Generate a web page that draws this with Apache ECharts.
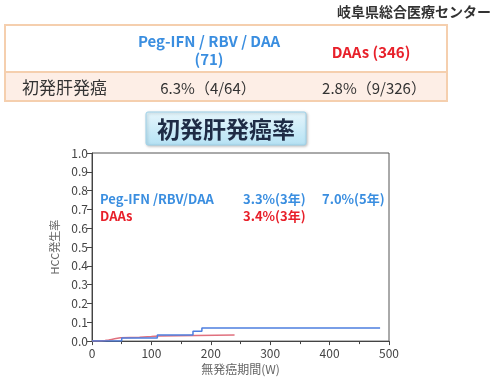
<!DOCTYPE html>
<html>
<head>
<meta charset="utf-8">
<script src="https://cdn.jsdelivr.net/npm/echarts@6/dist/echarts.min.js"></script>
<style>
  html, body { margin: 0; padding: 0; background: #fff; }
  #main { width: 497px; height: 381px; }
</style>
</head>
<body>
<div id="main"></div>
<script>
// 累積発癌率 (KM step points: [週, 発生率])
const pegWeeks = [0, 50, 110, 170, 185, 485];
const pegRate = [0, 0.016, 0.033, 0.052, 0.07, 0.07];
const daaWeeks = [0, 15, 22, 28, 33, 38, 43, 48, 80, 100, 112, 240];
const daaRate = [0, 0.003, 0.006, 0.009, 0.012, 0.015, 0.018, 0.021, 0.024, 0.027, 0.033, 0.033];

const xTicks = [0, 100, 200, 300, 400, 500];
const yTicks = [0, 0.1, 0.2, 0.3, 0.4, 0.5, 0.6, 0.7, 0.8, 0.9, 1.0];

const tableHead = ["Peg-IFN / RBV / DAA", "(71)", "DAAs (346)"];
const tableRow = ["初発肝発癌", "6.3%（4/64）", "2.8%（9/326）"];

const FONT = "'Noto Sans CJK JP', 'Noto Sans', sans-serif";
const BLUE = "#3a8ee0";
const RED = "#e8202a";

const myChart = echarts.init(document.getElementById("main"));

const zip = (xs, ys) => xs.map((x, i) => [x, ys[i]]);

const label = (x, y, text, fill) => ({
  type: "text",
  x: x, y: y,
  style: { text: text, fill: fill, font: "bold 13px " + FONT, verticalAlign: "middle" },
});

myChart.setOption({
  animation: false,
  grid: {
    left: 92,
    top: 153,
    width: 297,
    height: 191,
    show: true,
    borderColor: "#555",
    borderWidth: 1,
  },
  xAxis: {
    type: "value",
    min: 0,
    max: 500,
    interval: 100,
    name: "無発癌期間(W)",
    nameLocation: "middle",
    nameGap: 22,
    nameTextStyle: { color: "#666", fontSize: 12, fontFamily: FONT },
    axisLine: { lineStyle: { color: "#444" } },
    axisTick: { lineStyle: { color: "#444" }, length: 4 },
    minorTick: { show: true, splitNumber: 2, length: 3, lineStyle: { color: "#444" } },
    splitLine: { show: false },
    axisLabel: { color: "#444", fontSize: 12, fontFamily: FONT, margin: 6 },
  },
  yAxis: {
    type: "value",
    min: 0,
    max: 1,
    interval: 0.1,
    name: "HCC発生率",
    nameLocation: "middle",
    nameGap: 28,
    nameTextStyle: { color: "#666", fontSize: 11, fontFamily: FONT },
    axisLine: { show: true, lineStyle: { color: "#444" } },
    axisTick: { show: true, lineStyle: { color: "#444" }, length: 5 },
    splitLine: { show: false },
    axisLabel: {
      color: "#444",
      fontSize: 12,
      fontFamily: FONT,
      margin: 4,
      formatter: (v) => v.toFixed(1),
    },
  },
  graphic: [
    {
      type: "text",
      right: 6,
      top: 5,
      style: { text: "岐阜県総合医療センター", fill: "#333", font: "bold 14px " + FONT },
    },
    // table
    {
      type: "rect",
      shape: { x: 5, y: 72, width: 442, height: 29 },
      style: { fill: "#fdeee6", stroke: null },
    },
    {
      type: "rect",
      shape: { x: 5, y: 25, width: 442, height: 76 },
      style: { fill: "none", stroke: "#f5cfae", lineWidth: 2 },
    },
    {
      type: "line",
      shape: { x1: 5, y1: 72, x2: 447, y2: 72 },
      style: { stroke: "#f5cfae", lineWidth: 2 },
    },
    {
      type: "text",
      x: 209, y: 41,
      style: { text: tableHead[0], fill: BLUE, font: "bold 15px " + FONT, align: "center", verticalAlign: "middle" },
    },
    {
      type: "text",
      x: 209, y: 59,
      style: { text: tableHead[1], fill: BLUE, font: "bold 15px " + FONT, align: "center", verticalAlign: "middle" },
    },
    {
      type: "text",
      x: 371, y: 52,
      style: { text: tableHead[2], fill: RED, font: "bold 15px " + FONT, align: "center", verticalAlign: "middle" },
    },
    {
      type: "text",
      x: 22, y: 88,
      style: { text: tableRow[0], fill: "#333", font: "17px " + FONT, verticalAlign: "middle" },
    },
    {
      type: "text",
      x: 208, y: 88,
      style: { text: tableRow[1], fill: "#333", font: "15px " + FONT, align: "center", verticalAlign: "middle" },
    },
    {
      type: "text",
      x: 374, y: 88,
      style: { text: tableRow[2], fill: "#333", font: "15px " + FONT, align: "center", verticalAlign: "middle" },
    },
    // title box
    {
      type: "rect",
      shape: { x: 146, y: 112, width: 160, height: 33, r: 2 },
      style: {
        fill: {
          type: "linear", x: 0, y: 0, x2: 0, y2: 1,
          colorStops: [
            { offset: 0, color: "#e6f6fc" },
            { offset: 1, color: "#b5e2f4" },
          ],
        },
        stroke: "#9ed2ea",
        lineWidth: 1,
        shadowBlur: 3,
        shadowColor: "rgba(0,0,0,0.25)",
        shadowOffsetX: 1,
        shadowOffsetY: 1,
      },
    },
    {
      type: "text",
      x: 226, y: 129,
      style: { text: "初発肝発癌率", fill: "#1e2b45", font: "bold 23px " + FONT, align: "center", verticalAlign: "middle" },
    },
    // in-plot labels
    label(100, 199, "Peg-IFN /RBV/DAA", BLUE),
    label(243, 199, "3.3%(3年)", BLUE),
    label(322, 199, "7.0%(5年)", BLUE),
    label(100, 216, "DAAs", RED),
    label(243, 216, "3.4%(3年)", RED),
  ],
  series: [
    {
      name: "DAAs",
      type: "line",
      step: "end",
      showSymbol: false,
      lineStyle: { color: "#e0707e", width: 1.5 },
      data: zip(daaWeeks, daaRate),
    },
    {
      name: "Peg-IFN/RBV/DAA",
      type: "line",
      step: "end",
      showSymbol: false,
      lineStyle: { color: "#4d7fe0", width: 1.5 },
      data: zip(pegWeeks, pegRate),
    },
  ],
});
</script>
</body>
</html>
